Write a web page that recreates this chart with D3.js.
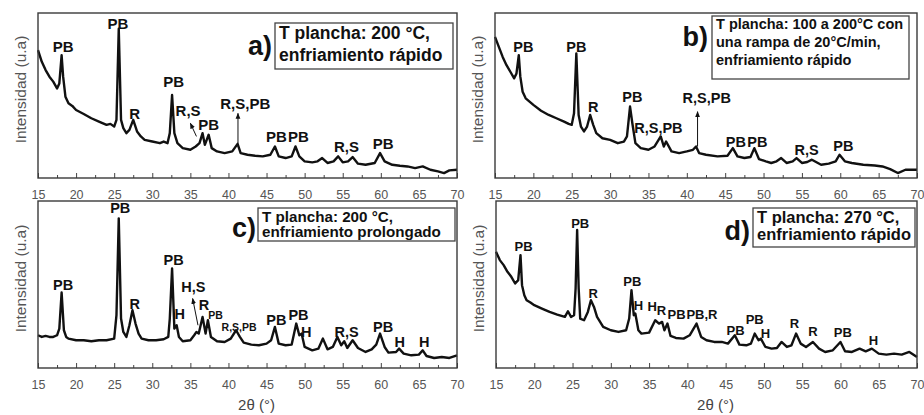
<!DOCTYPE html>
<html>
<head>
<meta charset="utf-8">
<script src="https://cdn.jsdelivr.net/npm/d3@7"></script>
<style>
  html, body { margin: 0; padding: 0; background: #fff; }
  svg { display: block; font-family: "Liberation Sans", Arial, sans-serif; }
</style>
</head>
<body>
<svg id="chart" width="924" height="415"></svg>
<script>
// 2θ tick marks
const majorTicks = [15, 20, 25, 30, 35, 40, 45, 50, 55, 60, 65, 70];
const minorTicks = [17.5, 22.5, 27.5, 32.5, 37.5, 42.5, 47.5, 52.5, 57.5, 62.5, 67.5];

// diffractograms, [2θ, intensity (u.a.)]
const patternA = [[15,77.5],[15.5,70.4],[16,65.4],[16.5,61.4],[17,58.4],[17.5,54.3],[17.8,57.3],[18.1,74.4],[18.3,61.4],[18.6,49.3],[19,45.3],[19.5,43.7],[20,41.2],[21,38.8],[22,36.2],[23,34.2],[24,32.2],[24.5,32.8],[25,31.2],[25.3,35.2],[25.6,90.5],[25.9,35.2],[26.2,30.2],[26.6,27.2],[27,29.2],[27.5,35.2],[28,28.2],[28.5,25.2],[29,23.1],[30,22.1],[31,21.1],[31.5,22.1],[32,21.1],[32.3,27.2],[32.6,50.3],[32.9,27.2],[33.3,21.1],[34,18.1],[35,17.1],[35.7,19.1],[36.2,21.1],[36.6,27.2],[36.9,20.1],[37.4,26.2],[37.8,18.1],[38.5,16.1],[39.5,15.1],[40.5,16.1],[41.2,20.7],[41.6,15.1],[42.5,14.1],[43.5,13.5],[44.5,13.1],[45.5,14.1],[46.1,19.1],[46.6,13.1],[47.5,12.1],[48.3,13.1],[48.8,19.1],[49.3,13.1],[50,10.1],[51,9.5],[51.7,10.1],[52.3,12.1],[53,9.1],[53.8,10.1],[54.4,13.1],[55,9.5],[55.7,10.1],[56.3,12.7],[57,8.7],[58,8],[59.2,9.1],[59.9,15.1],[60.5,10.1],[61.5,8],[62.5,7.4],[63.5,7],[64.5,6],[65.5,7],[66.5,5],[67.5,4],[68.3,3],[69,4.6],[70,5]];
const patternB = [[15,85.5],[15.5,79.5],[16,73.4],[16.5,68.4],[17,64.4],[17.5,60.4],[17.8,63.4],[18.1,74.4],[18.3,61.4],[18.6,52.3],[19,48.3],[19.5,46.3],[20,44.3],[21,40.8],[22,38.2],[23,36.2],[24,34.2],[24.6,32.8],[25,32.2],[25.3,39.2],[25.6,75.5],[25.9,38.2],[26.2,31.2],[26.6,28.2],[27,31.2],[27.4,38.2],[27.8,32.2],[28.2,27.2],[29,24.1],[30,23.1],[31,21.1],[31.8,22.1],[32.2,25.2],[32.6,43.3],[32.9,33.2],[33.3,21.1],[34,18.1],[35,17.1],[35.8,19.1],[36.6,25.2],[37,19.1],[37.3,22.1],[38,16.1],[39,15.1],[40,16.1],[40.8,17.1],[41.2,19.1],[41.6,15.1],[42.5,14.1],[44,13.1],[45.3,13.5],[46,18.1],[46.6,13.1],[47.5,12.1],[48.3,12.7],[48.8,18.1],[49.4,11.5],[50.3,10.1],[51,9.1],[51.7,10.1],[52.3,12.1],[53,9.1],[53.8,10.1],[54.3,12.1],[55,9.1],[55.7,9.7],[56.3,11.1],[57.5,8],[58.5,8.7],[59.4,10.1],[59.9,14.1],[60.6,10.1],[61.5,9.1],[63,8],[64.5,7.6],[65.5,7],[66.5,5.4],[67.5,3],[68.5,5],[70,5]];
const patternC = [[15,19.6],[15.5,18.6],[16,19.2],[16.5,18.6],[17,18.6],[17.5,19.6],[17.8,23.6],[18.1,45.2],[18.4,22.6],[18.7,18.6],[19,17.6],[20,16.6],[21,16.6],[22,16],[23,16.6],[24,16.6],[25,17.6],[25.3,31.6],[25.6,89.6],[25.9,29.6],[26.2,21.6],[26.6,18.6],[27,25.6],[27.4,34.6],[27.8,26.6],[28.2,20.6],[28.6,17.6],[29.5,16.6],[30.5,16.6],[31.5,17.2],[32.1,18.6],[32.3,29.6],[32.6,59.6],[32.9,23.6],[33.2,25.6],[33.5,18.6],[34,16],[35,16.6],[35.5,19.6],[35.8,21.6],[36.1,20.6],[36.6,30.6],[37,20.6],[37.3,28.6],[37.7,18.6],[38.5,16],[39.5,15.6],[40.3,17.6],[41,22.6],[41.5,18.6],[42,15.2],[43,14],[44,13.6],[45,14.6],[45.6,16.6],[46.1,24.6],[46.6,14.6],[47.5,13.6],[48.3,14],[48.9,26.6],[49.3,19.6],[49.6,20.6],[50,12.6],[51,10.6],[51.8,11.6],[52.4,17.6],[53,11.2],[53.7,12.6],[54.3,18.6],[54.8,13.6],[55.2,16],[55.6,12],[56.3,16.6],[57,12],[58,9.6],[58.8,11.2],[59.4,14],[59.9,20.6],[60.5,12.6],[61,9.2],[62,9.6],[62.4,11.6],[63,8.6],[64,7.6],[65,8],[65.5,10.6],[66,7.2],[67,6],[68,6.6],[69,6],[70,7.6]];
const patternD = [[15,69.6],[15.5,64.6],[16,61.6],[16.5,57.6],[17,54.6],[17.5,50.6],[17.9,52.6],[18.2,67.6],[18.4,49.6],[18.7,43.6],[19,40.6],[19.5,39.2],[20,37.6],[21,35.6],[22,33.6],[23,32],[24,30.6],[24.4,34],[24.8,30.6],[25.2,31.6],[25.4,47.6],[25.6,82.6],[25.8,47.6],[26,29.6],[26.5,28.6],[27,33.6],[27.4,40.6],[27.8,36.6],[28.2,30.6],[29,24.6],[30,22.6],[31,21.6],[32,22.6],[32.4,29.6],[32.7,46.6],[33,31.6],[33.2,32.6],[33.6,22.6],[34,20.6],[35,21.2],[35.8,28.6],[36.3,26.6],[36.7,27.6],[37,22.6],[37.4,26.6],[37.8,19.2],[38.5,18],[39.5,17.6],[40.3,19.6],[41.2,26.6],[41.8,18.6],[42.5,16.6],[43.5,15.6],[44.5,15.6],[45.3,14.6],[46.2,19.6],[46.8,14],[47.7,13.6],[48.3,14.6],[48.8,20.6],[49.3,16.6],[49.6,17.6],[50.2,12.6],[51,11.6],[51.7,12],[52.3,15.6],[53,12.6],[53.6,13.6],[54.2,20.6],[54.8,14.6],[55.5,12.6],[56.4,15.6],[57.2,11.6],[58,9.6],[59,10.6],[60,15.6],[60.6,10],[61.5,9.6],[62.5,11.6],[63.3,10],[64.1,11.6],[65,8.6],[66,8],[67,8.6],[68,8],[69,9.6],[70,6.6]];

// phase labels [text, 2θ, intensity]
const labelsA = [["PB",18.3,79.5],["PB",25.5,93.6],["R",27.7,39.2],["PB",32.8,58.4],["R,S",34.7,41.2],["PB",37.4,32.2],["R,S,PB",42.2,45.3],["PB",46.3,25.2],["PB",49.2,25.2],["R,S",55.5,19.1],["PB",60.3,21.1]];
const labelsB = [["PB",18.7,79.5],["PB",25.6,79.5],["R",27.8,43.3],["PB",32.9,49.3],["R,S,PB",36.3,30.2],["R,S,PB",42.6,48.3],["PB",46.4,22.1],["PB",49.2,22.1],["R,S",55.6,17.1],["PB",60.4,19.1]];
const labelsC = [["PB",18.3,49.6],["PB",25.8,95.6],["R",27.7,38.6],["PB",32.8,64.6],["H",33.6,32.6],["H,S",35.4,48.6],["R",36.8,37.6],["PB",46.3,28.6],["PB",49.2,31.6],["H",50.2,21.6],["R,S",55.5,21.6],["PB",60.3,24.6],["H",62.5,15.6],["H",65.7,15.6]];
const smallLabelsC = [["PB",38.3,31.6],["R,S,PB",41.4,24.6]];
const labelsD = [["PB",18.6,72.6],["PB",26.0,86.6],["R",27.7,44.6],["PB",32.8,51.6],["H",33.6,37.6],["H",35.4,36.6],["R",36.6,34.6],["PB",38.6,32],["PB,R",41.9,32],["PB",46.3,22.6],["PB",48.8,29],["H",50.2,20.6],["R",54.0,26.6],["R",56.4,22],["PB",60.3,21.2],["H",64.3,16.6]];

// arrows [2θ from, I from, 2θ to, I to]
const arrowsA = [[35.8,25.2,35.0,33.2],[41.25,21.1,41.25,39.2]];
const arrowsB = [[41.4,19.1,41.4,40.2]];
const arrowsC = [[36.0,25.6,35.3,41.6]];

const letters = ["a)", "b)", "c)", "d)"];
const boxA = ["T plancha: 200 °C,", "enfriamiento rápido"];
const boxB = ["T plancha: 100 a 200°C con", "una rampa de 20°C/min,", "enfriamiento rápido"];
const boxC = ["T plancha: 200 °C,", "enfriamiento prolongado"];
const boxD = ["T plancha: 270 °C,", "enfriamiento rápido"];

const panels = [
  { x0: 38, x1: 457, y0: 13, y1: 178, data: patternA, labels: labelsA, small: [], arrows: arrowsA, pfs: 15,
    letter: letters[0], box: boxA, bx: 275, by: 23, bw: 178, bh: 46, fs: 17.5, lh: 22, lx: 272, ly: 55, xTitle: false },
  { x0: 495, x1: 917, y0: 13, y1: 178, data: patternB, labels: labelsB, small: [], arrows: arrowsB, pfs: 14.5,
    letter: letters[1], box: boxB, bx: 712, by: 16, bw: 197, bh: 63, fs: 14.5, lh: 18, lx: 708, ly: 46, xTitle: false },
  { x0: 38, x1: 457, y0: 201, y1: 368, data: patternC, labels: labelsC, small: smallLabelsC, arrows: arrowsC, pfs: 14.5,
    letter: letters[2], box: boxC, bx: 258, by: 208, bw: 197, bh: 33, fs: 15.2, lh: 15.5, lx: 256, ly: 237, xTitle: true },
  { x0: 496, x1: 917, y0: 201, y1: 368, data: patternD, labels: labelsD, small: [], arrows: [], pfs: 13,
    letter: letters[3], box: boxD, bx: 753, by: 208, bw: 162, bh: 39, fs: 16.5, lh: 17, lx: 750, ly: 240, xTitle: true }
];

const svg = d3.select('#chart');

svg.append('defs').append('marker')
  .attr('id', 'head')
  .attr('viewBox', '0 0 10 10')
  .attr('refX', 9).attr('refY', 5)
  .attr('markerWidth', 6).attr('markerHeight', 6)
  .attr('orient', 'auto')
  .append('path')
  .attr('d', 'M0,1 L10,5 L0,9 Z')
  .attr('fill', '#111');

panels.forEach(p => {
  const x = d3.scaleLinear().domain([15, 70]).range([p.x0, p.x1]);
  const y = d3.scaleLinear().domain([0, 100]).range([p.y1, p.y0]);
  const g = svg.append('g');

  // minor + major ticks pointing inward
  g.append('g')
    .attr('transform', `translate(0,${p.y1})`)
    .call(d3.axisBottom(x).tickValues(minorTicks).tickSize(-3).tickFormat(''))
    .call(a => a.select('.domain').remove())
    .selectAll('line').attr('stroke', '#444');

  const ax = g.append('g')
    .attr('transform', `translate(0,${p.y1})`)
    .call(d3.axisBottom(x).tickValues(majorTicks).tickSize(-5).tickPadding(12));
  ax.select('.domain').remove();
  ax.selectAll('line').attr('stroke', '#444');
  ax.selectAll('text')
    .attr('font-size', 12.5)
    .attr('fill', '#555')
    .attr('font-family', '"Liberation Sans", Arial, sans-serif');

  const line = d3.line().x(d => x(d[0])).y(d => y(d[1]));
  g.append('path')
    .datum(p.data)
    .attr('d', line)
    .attr('fill', 'none')
    .attr('stroke', '#111')
    .attr('stroke-width', 2.4)
    .attr('stroke-linejoin', 'round');

  g.append('rect')
    .attr('x', p.x0).attr('y', p.y0)
    .attr('width', p.x1 - p.x0).attr('height', p.y1 - p.y0)
    .attr('fill', 'none')
    .attr('stroke', '#3a3a3a')
    .attr('stroke-width', 1.4);

  g.append('text')
    .attr('transform', `translate(${p.x0 - 18},${(p.y0 + p.y1) / 2 - 6}) rotate(-90)`)
    .attr('text-anchor', 'middle')
    .attr('dominant-baseline', 'central')
    .attr('font-size', 15.5)
    .attr('fill', '#555')
    .text('Intensidad (u.a)');

  if (p.xTitle) {
    g.append('text')
      .attr('x', (p.x0 + p.x1) / 2 + 9)
      .attr('y', 410)
      .attr('text-anchor', 'middle')
      .attr('font-size', 15)
      .attr('fill', '#444')
      .text('2θ (°)');
  }

  g.selectAll('line.arrow')
    .data(p.arrows)
    .join('line')
    .attr('class', 'arrow')
    .attr('x1', d => x(d[0])).attr('y1', d => y(d[1]))
    .attr('x2', d => x(d[2])).attr('y2', d => y(d[3]))
    .attr('stroke', '#111')
    .attr('stroke-width', 1)
    .attr('marker-end', 'url(#head)');

  g.selectAll('text.phase')
    .data(p.labels)
    .join('text')
    .attr('class', 'phase')
    .attr('x', d => x(d[1]))
    .attr('y', d => y(d[2]))
    .attr('text-anchor', 'middle')
    .attr('dominant-baseline', 'central')
    .attr('font-weight', 'bold')
    .attr('font-size', p.pfs)
    .attr('fill', '#111')
    .text(d => d[0]);

  g.selectAll('text.phase-small')
    .data(p.small)
    .join('text')
    .attr('class', 'phase-small')
    .attr('x', d => x(d[1]))
    .attr('y', d => y(d[2]))
    .attr('text-anchor', 'middle')
    .attr('dominant-baseline', 'central')
    .attr('font-weight', 'bold')
    .attr('font-size', 10.5)
    .attr('fill', '#111')
    .text(d => d[0]);

  g.append('text')
    .attr('x', p.lx).attr('y', p.ly)
    .attr('text-anchor', 'end')
    .attr('font-weight', 'bold')
    .attr('font-size', 27)
    .attr('fill', '#111')
    .text(p.letter);

  g.append('rect')
    .attr('x', p.bx).attr('y', p.by)
    .attr('width', p.bw).attr('height', p.bh)
    .attr('fill', '#fff')
    .attr('stroke', '#444')
    .attr('stroke-width', 1.3);

  g.selectAll('text.box')
    .data(p.box)
    .join('text')
    .attr('class', 'box')
    .attr('x', p.bx + 4)
    .attr('y', (d, i) => p.by + p.fs * 0.78 + 2 + i * p.lh)
    .attr('font-weight', 'bold')
    .attr('font-size', p.fs)
    .attr('fill', '#111')
    .text(d => d);
});
</script>
</body>
</html>
